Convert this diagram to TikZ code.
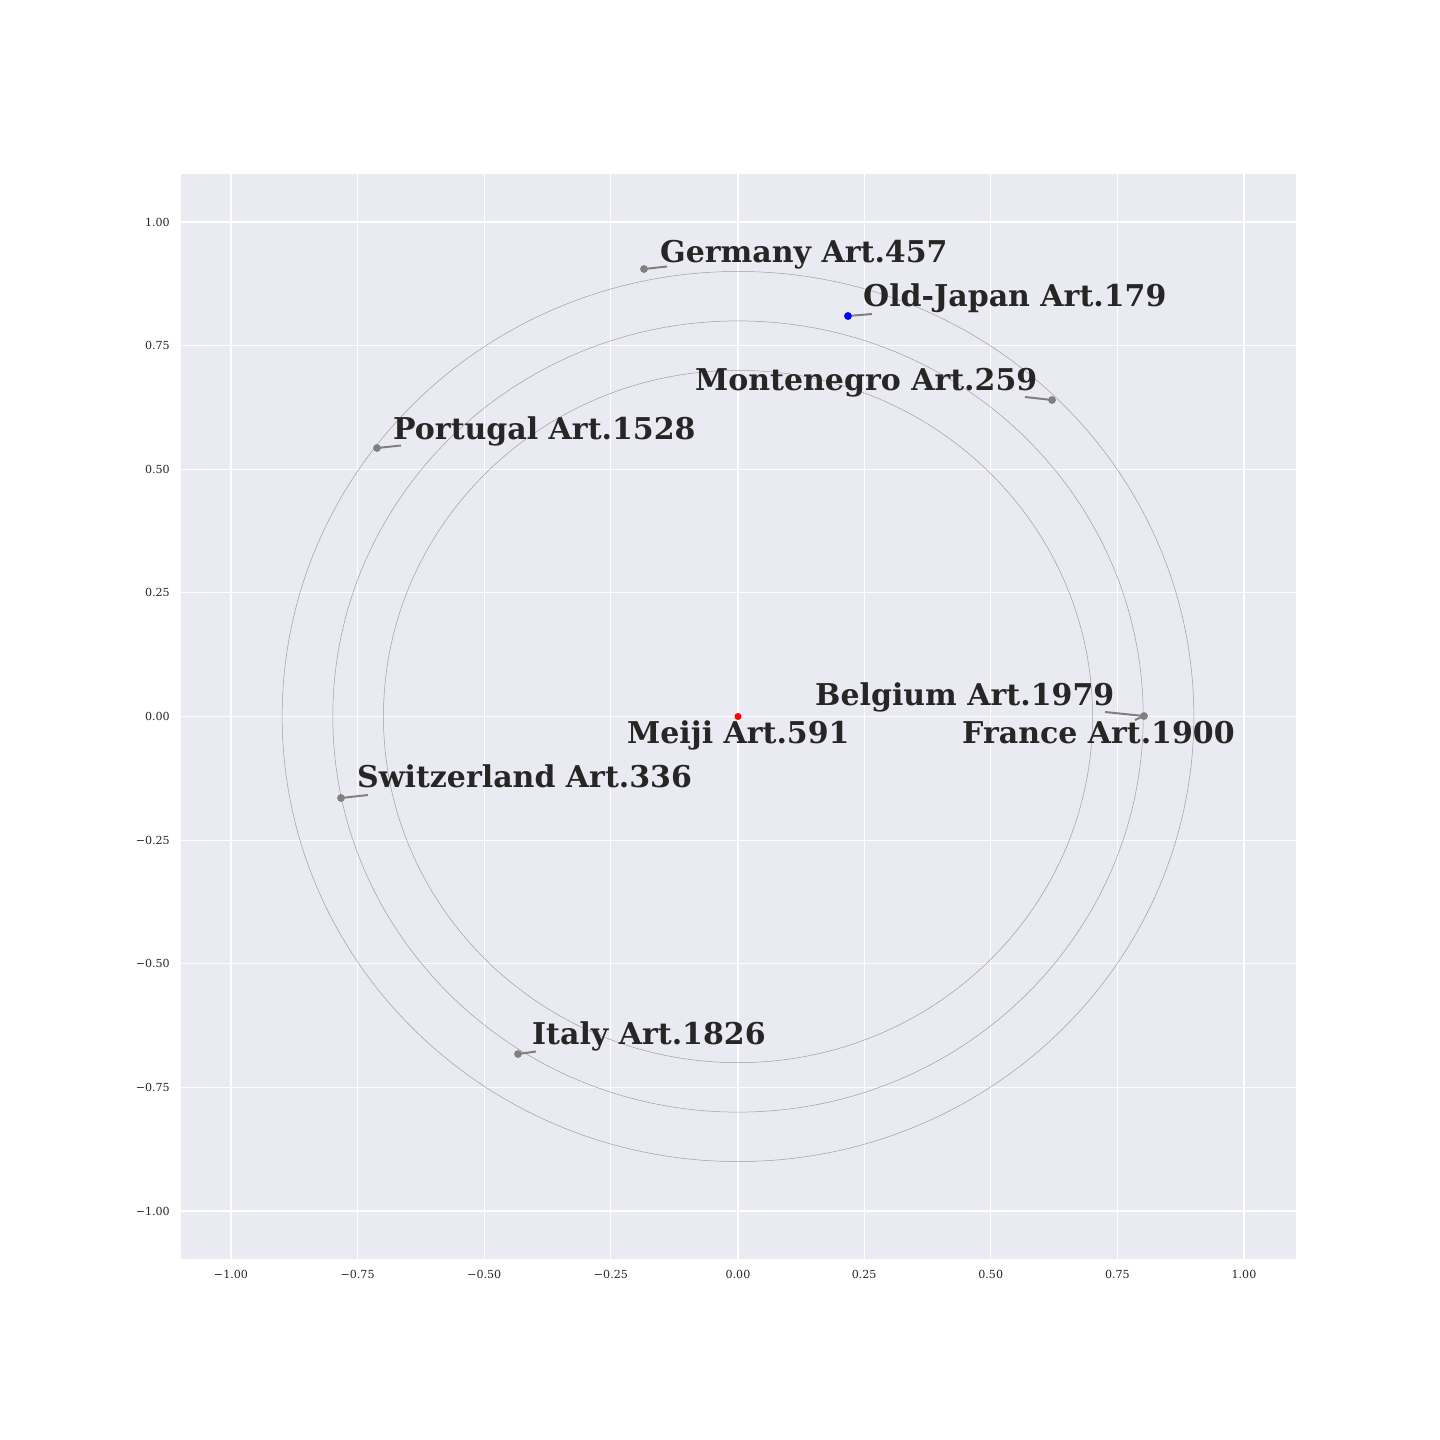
\documentclass[tikz,border=0pt]{standalone}
\usepackage{fontspec}
\setmainfont{DejaVu Serif}
\definecolor{bgc}{HTML}{EAEAF2}
\definecolor{tc}{HTML}{262626}
\tikzset{
  lbl/.style={font=\bfseries\fontsize{30}{36}\selectfont, text=tc, inner sep=0pt, anchor=base west},
  ticklbl/.style={font=\fontsize{11.1}{13}\selectfont, text=tc, inner sep=0pt},
  ann/.style={draw=gray, line width=2pt},
  dotg/.style={circle, fill=gray, inner sep=0pt, minimum size=7.5pt},
  ring/.style={draw=gray!75, line width=0.5pt},
  gridl/.style={draw=white, line width=1.1pt}
}
\begin{document}
\begin{tikzpicture}[x=1pt,y=-1pt]
\useasboundingbox[fill=white] (0,0) rectangle (1440,1440);
\fill[bgc] (181,174) rectangle (1296,1259);
% grid
\foreach \gx in {231,357.6,484.25,610.9,738,864.1,990.75,1117.4,1244}
  \draw[gridl] (\gx,174) -- (\gx,1259);
\foreach \gy in {222,345.6,469.25,592.9,716.5,840.1,963.75,1087.4,1211}
  \draw[gridl] (181,\gy) -- (1296,\gy);
% rings
\begin{scope}[shift={(738,716.5)}, x=506.5pt, y=494.5pt]
  \draw[ring] (0,0) circle [x radius=0.7, y radius=0.7];
  \draw[ring] (0,0) circle [x radius=0.8, y radius=0.8];
  \draw[ring] (0,0) circle [x radius=0.9, y radius=0.9];
\end{scope}
% x tick labels
\foreach \gx/\t [count=\i] in {231/{−1.00},357.6/{−0.75},484.25/{−0.50},610.9/{−0.25},738/{0.00},864.1/{0.25},990.75/{0.50},1117.4/{0.75},1244/{1.00}}
  \node[ticklbl, anchor=center] (xt\i) at (\gx,1274) {\t};
\foreach \gy/\t [count=\i] in {222/{1.00},345.6/{0.75},469.25/{0.50},592.9/{0.25},716.5/{0.00},840.1/{−0.25},963.75/{−0.50},1087.4/{−0.75},1211/{−1.00}}
  \node[ticklbl, anchor=east] (yt\i) at (170,\gy) {\t};
% annotation endpoints
\coordinate (cGer) at (667,266.5);
\coordinate (cJap) at (872,314);
\coordinate (cMon) at (1025,397);
\coordinate (cPor) at (401,445.5);
\coordinate (cBel) at (1105,712);
\coordinate (cFra) at (1135,720);
\coordinate (cSwi) at (368,795);
\coordinate (cIta) at (536,1051.5);
% dots
\node[dotg] (dGer) at (644,269) {};
\node[dotg, fill=blue] (dJap) at (848,316) {};
\node[dotg] (dMon) at (1052,400) {};
\node[dotg] (dPor) at (377,448) {};
\node[dotg] (dFra) at (1144,716) {};
\node[dotg] (dSwi) at (341,798) {};
\node[dotg] (dIta) at (518,1054) {};
\node[circle, fill=red, inner sep=0pt, minimum size=7pt] (dMei) at (738,716.5) {};
% connectors
\draw[ann] (dGer.center) -- (cGer);
\draw[ann] (dJap.center) -- (cJap);
\draw[ann] (dMon.center) -- (cMon);
\draw[ann] (dPor.center) -- (cPor);
\draw[ann] (dFra.center) -- (cBel);
\draw[ann] (dFra.center) -- (cFra);
\draw[ann] (dSwi.center) -- (cSwi);
\draw[ann] (dIta.center) -- (cIta);
% redraw dots on top
\node[dotg] at (dGer) {};
\node[dotg, fill=blue] at (dJap) {};
\node[dotg] at (dMon) {};
\node[dotg] at (dPor) {};
\node[dotg] at (dFra) {};
\node[dotg] at (dSwi) {};
\node[dotg] at (dIta) {};
% labels
\node[lbl] (lGer) at (660,262) {Germany Art.457};
\node[lbl] (lJap) at (863,306.7) {Old-Japan Art.179};
\node[lbl] (lMon) at (695,390.7) {Montenegro Art.259};
\node[lbl] (lPor) at (393,439) {Portugal Art.1528};
\node[lbl] (lBel) at (815,705) {Belgium Art.1979};
\node[lbl] (lMei) at (627,743) {Meiji Art.591};
\node[lbl] (lFra) at (962,743) {France Art.1900};
\node[lbl] (lSwi) at (357,787) {Switzerland Art.336};
\node[lbl] (lIta) at (532,1044) {Italy Art.1826};
\end{tikzpicture}
\end{document}
